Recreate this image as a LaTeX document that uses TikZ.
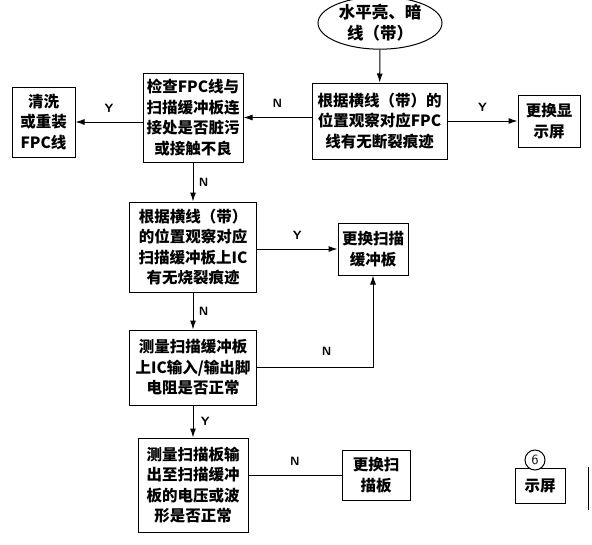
\documentclass[tikz,border=0pt]{standalone}
\usepackage{fontspec}
\setmainfont{Noto Sans CJK SC}
\usetikzlibrary{arrows.meta,shapes.geometric}
\begin{document}
\begin{tikzpicture}[x=1pt,y=-1pt,
    caja/.style={draw,line width=1pt,align=center,inner sep=2pt,
      font=\bfseries\fontsize{15.5}{20.5}\selectfont},
    flecha/.style={line width=1pt,-{Latex[length=9pt,width=6pt]}},
    linea/.style={line width=1pt},
    etiq/.style={font=\sffamily\bfseries\fontsize{12}{12}\selectfont}]
    \useasboundingbox (0,0) rectangle (592,544);

    % Nodos del diagrama
    \node[caja,ellipse,minimum width=124,minimum height=48,inner sep=0pt,
      font=\bfseries\fontsize{16.5}{21}\selectfont] (inicio) at (380,23) {水平亮、暗\\线（带）};
    \node[caja,minimum width=135,minimum height=76] (fpc) at (379.5,121) {根据横线（带）的\\位置观察对应FPC\\线有无断裂痕迹};
    \node[caja,minimum width=62,minimum height=52] (pantalla) at (549,121) {更换显\\示屏};
    \node[caja,minimum width=100,minimum height=89] (conexion) at (193,117.5) {检查FPC线与\\扫描缓冲板连\\接处是否脏污\\或接触不良};
    \node[caja,minimum width=63,minimum height=70] (limpiar) at (43.5,122) {清洗\\或重装\\FPC线};
    \node[caja,minimum width=127,minimum height=90] (ic) at (193,247) {根据横线（带）\\的位置观察对应\\扫描缓冲板上IC\\有无烧裂痕迹};
    \node[caja,minimum width=70,minimum height=52] (buffer) at (373,249) {更换扫描\\缓冲板};
    \node[caja,minimum width=127,minimum height=75] (medir) at (193,367.5) {测量扫描缓冲板\\上IC输入/输出脚\\电阻是否正常};
    \node[caja,minimum width=110,minimum height=94] (salida) at (193,485) {测量扫描板输\\出至扫描缓冲\\板的电压或波\\形是否正常};
    \node[caja,minimum width=68,minimum height=50] (escaneo) at (376,475) {更换扫\\描板};

    % Fragmento inferior derecho
    \node[caja,minimum width=50,minimum height=35] (resto) at (540,485.5) {示屏};
    \node[draw,circle,line width=1pt,minimum size=20,inner sep=0pt,fill=white,
      font=\sffamily\fontsize{14}{14}\selectfont] (seis) at (535,460) {6};
    \coordinate (borde1) at (588,467);
    \coordinate (borde2) at (588,510);
    \draw[linea] (borde1) -- (borde2);

    % Conectores
    \draw[flecha] (inicio) -- (fpc);
    \draw[flecha] (fpc) -- node[etiq,above=6pt] {Y} (pantalla);
    \draw[flecha] (fpc.west |- conexion) -- node[etiq,above=6pt] {N} (conexion);
    \draw[flecha] (conexion.west |- limpiar) -- node[etiq,above=6pt] {Y} (limpiar);
    \draw[flecha] (conexion) -- node[etiq,right=2pt,pos=0.5] {N} (ic);
    \draw[flecha] (ic.east |- buffer) -- node[etiq,above=6pt] {Y} (buffer);
    \draw[flecha] (ic) -- node[etiq,right=2pt] {N} (medir);
    \draw[flecha] (medir.east) -| node[etiq,above=8pt,pos=0.3] {N} (buffer.south);
    \draw[flecha] (medir) -- node[etiq,right=4pt] {Y} (salida);
    \draw[linea] (salida.east |- escaneo) -- node[etiq,above=6pt] {N} (escaneo.west);

\end{tikzpicture}
\end{document}
